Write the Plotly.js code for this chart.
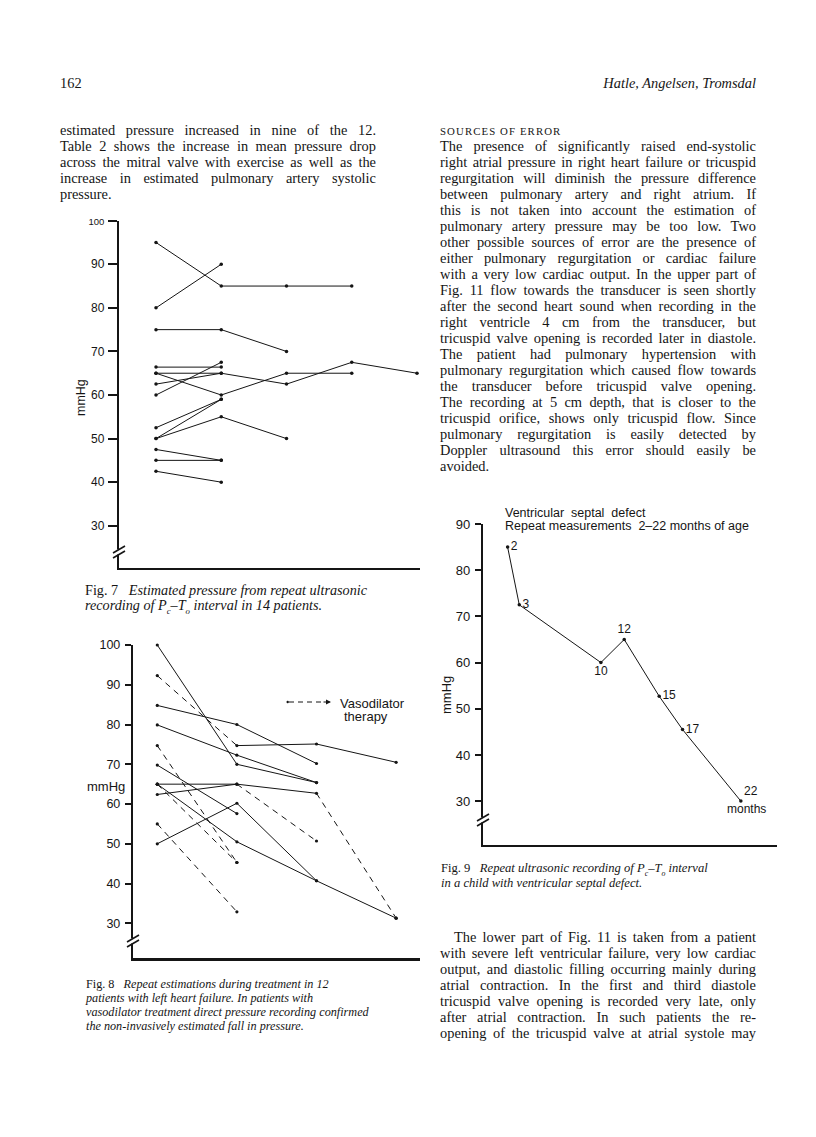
<!DOCTYPE html>
<html><head><meta charset="utf-8">
<script src="https://cdn.plot.ly/plotly-3.0.1.min.js"></script>
<style>
html,body{margin:0;padding:0;background:#fff;}
#page{position:relative;width:816px;height:1137px;overflow:hidden;background:#fff;}
#chart{position:absolute;left:0;top:0;width:816px;height:1137px;}
.ln{position:absolute;white-space:nowrap;font-family:"Liberation Serif","Times New Roman",serif;font-size:14.4px;color:#151515;line-height:16px;}
.cap{position:absolute;white-space:nowrap;font-family:"Liberation Serif","Times New Roman",serif;font-size:12.2px;color:#151515;line-height:13px;}
.cap7{font-size:14.2px;}
.cap9{font-size:12.6px;}
.sc{font-size:10.8px;letter-spacing:1.1px;}
</style></head>
<body><div id="page"><div id="chart"></div></div>
<script>
// ---------------- DATA ----------------
// Fig. 7: estimated pressure (mmHg) at successive recordings, 14 patients
const fig7Visits = [1, 2, 3, 4, 5];
const fig7P01 = [95, 85, 85, 85];
const fig7P02 = [80, 90];
const fig7P03 = [75, 75, 70];
const fig7P04 = [66.4, 66.4];
const fig7P05 = [65, 65];
const fig7P06 = [65, 60, 65, 65];
const fig7P07 = [62.5, 65, 62.5, 67.5, 65];
const fig7P08 = [60, 67.5];
const fig7P09 = [52.5, 59];
const fig7P10 = [50, 59];
const fig7P11 = [50, 55, 50];
const fig7P12 = [47.5, 45];
const fig7P13 = [45, 45];
const fig7P14 = [42.5, 40];
const fig7Patients = [fig7P01, fig7P02, fig7P03, fig7P04, fig7P05, fig7P06, fig7P07,
                      fig7P08, fig7P09, fig7P10, fig7P11, fig7P12, fig7P13, fig7P14];
const fig7TickVals = [30, 40, 50, 60, 70, 80, 90, 100];

// Fig. 8: repeat estimations during treatment, 12 patients
// segment type per interval: 's' = solid, 'v' = vasodilator therapy (dashed)
const fig8Visits = [1, 2, 3, 4];
const fig8P01 = [100, 70, 65.4];          const fig8S01 = ['s', 's'];
const fig8P02 = [92.3, 74.7, 75.1, 70.5]; const fig8S02 = ['v', 's', 's'];
const fig8P03 = [84.8, 80, 70.2];         const fig8S03 = ['s', 's'];
const fig8P04 = [79.9, 72.3, 65.4];       const fig8S04 = ['s', 's'];
const fig8P05 = [74.7, 45.3];             const fig8S05 = ['v'];
const fig8P06 = [69.8, 57.6];             const fig8S06 = ['s'];
const fig8P07 = [65, 65, 62.7, 31.3];     const fig8S07 = ['s', 's', 'v'];
const fig8P08 = [62.4, 65, 50.7];         const fig8S08 = ['s', 'v'];
const fig8P09 = [65, 50.5, 40.7, 31.3];   const fig8S09 = ['s', 's', 's'];
const fig8P10 = [50, 60.2, 40.7];         const fig8S10 = ['s', 's'];
const fig8P11 = [65, 45.3];               const fig8S11 = ['v'];
const fig8P12 = [55, 32.9];               const fig8S12 = ['v'];
const fig8Patients = [fig8P01, fig8P02, fig8P03, fig8P04, fig8P05, fig8P06,
                      fig8P07, fig8P08, fig8P09, fig8P10, fig8P11, fig8P12];
const fig8Segments = [fig8S01, fig8S02, fig8S03, fig8S04, fig8S05, fig8S06,
                      fig8S07, fig8S08, fig8S09, fig8S10, fig8S11, fig8S12];
const fig8TickVals = [30, 40, 50, 60, 70, 80, 90, 100];

// Fig. 9: ventricular septal defect, one child
const fig9Months = [2, 3, 10, 12, 15, 17, 22];
const fig9Pressure = [85, 72.5, 60, 65, 52.7, 45.5, 30];
const fig9Labels = ['2', '3', '10', '12', '15', '17', '22'];
const fig9TickVals = [30, 40, 50, 60, 70, 80, 90];

// ---------------- PAGE TEXT ----------------
const leftColLines = [
  "estimated pressure increased in nine of the 12.",
  "Table 2 shows the increase in mean pressure drop",
  "across the mitral valve with exercise as well as the",
  "increase in estimated pulmonary artery systolic",
  "pressure."
];
const rightColLines = [
  "The presence of significantly raised end-systolic",
  "right atrial pressure in right heart failure or tricuspid",
  "regurgitation will diminish the pressure difference",
  "between pulmonary artery and right atrium. If",
  "this is not taken into account the estimation of",
  "pulmonary artery pressure may be too low. Two",
  "other possible sources of error are the presence of",
  "either pulmonary regurgitation or cardiac failure",
  "with a very low cardiac output. In the upper part of",
  "Fig. 11 flow towards the transducer is seen shortly",
  "after the second heart sound when recording in the",
  "right ventricle 4 cm from the transducer, but",
  "tricuspid valve opening is recorded later in diastole.",
  "The patient had pulmonary hypertension with",
  "pulmonary regurgitation which caused flow towards",
  "the transducer before tricuspid valve opening.",
  "The recording at 5 cm depth, that is closer to the",
  "tricuspid orifice, shows only tricuspid flow. Since",
  "pulmonary regurgitation is easily detected by",
  "Doppler ultrasound this error should easily be",
  "avoided."
];
const bottomRightLines = [
  "The lower part of Fig. 11 is taken from a patient",
  "with severe left ventricular failure, very low cardiac",
  "output, and diastolic filling occurring mainly during",
  "atrial contraction. In the first and third diastole",
  "tricuspid valve opening is recorded very late, only",
  "after atrial contraction. In such patients the re-",
  "opening of the tricuspid valve at atrial systole may"
];

// ---------------- HELPERS ----------------
const W = 816, H = 1137;
const page = document.getElementById('page');
const px = v => v / W;
const py = v => 1 - v / H;
const xd = (a, b) => [a / W, b / W];
const yd = (top, bottom) => [1 - bottom / H, 1 - top / H];

function addLine(html, x, yc, width, justify, cls, lh) {
  const d = document.createElement('div');
  d.className = cls || 'ln';
  d.innerHTML = html;
  d.style.left = x + 'px';
  const h = lh || 16;
  d.style.lineHeight = h + 'px';
  d.style.top = (yc - h / 2) + 'px';
  page.appendChild(d);
  if (justify) {
    const w = d.getBoundingClientRect().width;
    const txt = d.textContent;
    const n = (txt.match(/ /g) || []).length;
    const extra = width - w;
    if (n > 0) {
      if (extra / n >= -1.0) {
        d.style.wordSpacing = (extra / n) + 'px';
      } else {
        d.style.wordSpacing = '-1px';
        d.style.letterSpacing = ((extra + n) / txt.length) + 'px';
      }
    }
  }
  return d;
}

// header
addLine("162", 60, 83, 0, false);
const hdr = addLine("<i>Hatle, Angelsen, Tromsdal</i>", 0, 83, 0, false);
hdr.style.left = (756 - hdr.getBoundingClientRect().width) + 'px';

// left column
leftColLines.forEach((t, i) => addLine(t, 60, 130 + i * 16, 316, i < leftColLines.length - 1));
// right column
addLine('<span class="sc">SOURCES OF ERROR</span>', 440, 130, 0, false);
rightColLines.forEach((t, i) => addLine(t, 440, 146 + i * 16, 316, i < rightColLines.length - 1));
// lower right
bottomRightLines.forEach((t, i) => {
  const ind = i === 0 ? 14 : 0;
  addLine(t, 440 + ind, 937 + i * 16, 316 - ind, true);
});

// captions
const SUB = "style='font-size:0.62em'";
addLine("Fig. 7&nbsp;&nbsp;&nbsp;<i>Estimated pressure from repeat ultrasonic</i>", 85, 590, 0, false, 'cap cap7', 15);
addLine("<i>recording of P<sub " + SUB + ">c</sub>\u2013T<sub " + SUB + ">o</sub> interval in 14 patients.</i>", 85, 605, 0, false, 'cap cap7', 15);
addLine("Fig. 8&nbsp;&nbsp;&nbsp;<i>Repeat estimations during treatment in 12</i>", 86, 984, 0, false, 'cap', 14);
addLine("<i>patients with left heart failure. In patients with</i>", 86, 998, 0, false, 'cap', 14);
addLine("<i>vasodilator treatment direct pressure recording confirmed</i>", 86, 1012, 0, false, 'cap', 14);
addLine("<i>the non-invasively estimated fall in pressure.</i>", 86, 1026, 0, false, 'cap', 14);
addLine("Fig. 9&nbsp;&nbsp;&nbsp;<i>Repeat ultrasonic recording of P<sub " + SUB + ">c</sub>\u2013T<sub " + SUB + ">o</sub> interval</i>", 441, 868, 0, false, 'cap cap9', 14);
addLine("<i>in a child with ventricular septal defect.</i>", 441, 883, 0, false, 'cap cap9', 14);

// ---------------- CHART ----------------
const INK = '#151515';
const SANS = 'Liberation Sans, Arial, sans-serif';
const traces = [];

fig7Patients.forEach(vals => {
  traces.push({
    x: fig7Visits.slice(0, vals.length), y: vals, xaxis: 'x', yaxis: 'y',
    mode: 'lines+markers', line: {color: INK, width: 1}, marker: {color: INK, size: 3.5},
    showlegend: false, hoverinfo: 'skip', cliponaxis: false
  });
});

fig8Patients.forEach((vals, p) => {
  const segs = fig8Segments[p];
  segs.forEach((s, i) => {
    traces.push({
      x: fig8Visits.slice(i, i + 2), y: vals.slice(i, i + 2), xaxis: 'x2', yaxis: 'y2',
      mode: 'lines', line: {color: INK, width: 1, dash: s === 'v' ? '6px,5px' : 'solid'},
      showlegend: false, hoverinfo: 'skip', cliponaxis: false
    });
  });
  traces.push({
    x: fig8Visits.slice(0, vals.length), y: vals, xaxis: 'x2', yaxis: 'y2',
    mode: 'markers', marker: {color: INK, size: 3.2},
    showlegend: false, hoverinfo: 'skip', cliponaxis: false
  });
});

traces.push({
  x: fig9Months, y: fig9Pressure, xaxis: 'x3', yaxis: 'y3',
  mode: 'lines+markers+text', text: fig9Labels,
  textposition: ['middle right', 'middle right', 'bottom center', 'top center', 'middle right', 'middle right', 'top right'],
  textfont: {family: SANS, size: 12, color: INK},
  line: {color: INK, width: 1}, marker: {color: INK, size: 3.5},
  showlegend: false, hoverinfo: 'skip', cliponaxis: false
});

const baseX = {showgrid: false, zeroline: false, showticklabels: false, ticks: '',
  showline: true, linecolor: INK, linewidth: 2.2, fixedrange: true};
const baseY = {showgrid: false, zeroline: false, ticks: 'outside', tickwidth: 2, tickcolor: INK,
  showline: true, linecolor: INK, linewidth: 2.2, fixedrange: true,
  tickfont: {family: SANS, size: 12.5, color: INK}};

const fig7TickText = fig7TickVals.map(v => v === 100 ? '<span style="font-size:9.5px">100</span>' : String(v));

function slash(x0, y0, x1, y1, color, w) {
  return {type: 'line', xref: 'paper', yref: 'paper', x0: px(x0), y0: py(y0), x1: px(x1), y1: py(y1),
          line: {color: color || INK, width: w || 1.6}, layer: 'above'};
}

const layout = {
  width: W, height: H, margin: {l: 0, r: 0, t: 0, b: 0},
  paper_bgcolor: 'rgba(0,0,0,0)', plot_bgcolor: 'rgba(0,0,0,0)',
  xaxis: Object.assign({}, baseX, {domain: xd(119, 420), range: [0.433, 5.046], anchor: 'y'}),
  yaxis: Object.assign({}, baseY, {domain: yd(220.7, 568), range: [20.3, 100], anchor: 'x',
    tickvals: fig7TickVals, ticktext: fig7TickText, ticklen: 9, ticklabelstandoff: 1,
    tickfont: {family: SANS, size: 12, color: INK}}),
  xaxis2: Object.assign({}, baseX, {domain: xd(133, 420), range: [0.695, 4.30], anchor: 'y2'}),
  yaxis2: Object.assign({}, baseY, {domain: yd(645, 958.3), range: [21.2, 100], anchor: 'x2',
    tickvals: fig8TickVals, ticklen: 6, ticklabelstandoff: 2}),
  xaxis3: Object.assign({}, baseX, {domain: xd(483, 777), range: [-0.11, 25.1], anchor: 'y3'}),
  yaxis3: Object.assign({}, baseY, {domain: yd(524, 845), range: [20.5, 90], anchor: 'x3',
    tickvals: fig9TickVals, ticklen: 6, ticklabelstandoff: 2, tickfont: {family: SANS, size: 13, color: INK}}),
  shapes: [
    // axis breaks
    slash(119, 549.5, 119, 554.5, '#ffffff', 4),
    slash(113, 553, 125, 546), slash(113, 558, 125, 551),
    slash(133, 938.5, 133, 943.5, '#ffffff', 4),
    slash(127, 942, 139, 935), slash(127, 947, 139, 940),
    slash(483, 817.5, 483, 822.5, '#ffffff', 4),
    slash(477, 821, 489, 814), slash(477, 826, 489, 819),
    // Fig. 8 key: dashed line
    {type: 'line', xref: 'paper', yref: 'paper', x0: px(289), y0: py(702), x1: px(323), y1: py(702),
     line: {color: INK, width: 1, dash: '5px,4px'}, layer: 'above'},
    {type: 'circle', xref: 'paper', yref: 'paper', x0: px(286.5), y0: py(703.2), x1: px(288.9), y1: py(700.8),
     fillcolor: INK, line: {width: 0}}
  ],
  annotations: [
    {xref: 'paper', yref: 'paper', x: px(81), y: py(398), text: 'mmHg', textangle: -90, showarrow: false,
     font: {family: SANS, size: 12.5, color: INK}, xanchor: 'center', yanchor: 'middle'},
    {xref: 'paper', yref: 'paper', x: px(106), y: py(786), text: 'mmHg', showarrow: false,
     font: {family: SANS, size: 13, color: INK}, xanchor: 'center', yanchor: 'middle'},
    {xref: 'paper', yref: 'paper', x: px(446), y: py(695), text: 'mmHg', textangle: -90, showarrow: false,
     font: {family: SANS, size: 13, color: INK}, xanchor: 'center', yanchor: 'middle'},
    // Fig. 8 key arrowhead + text
    {xref: 'paper', yref: 'paper', x: px(331), y: py(702), ax: -9, ay: 0, text: '', showarrow: true,
     arrowhead: 2, arrowsize: 1, arrowwidth: 1, arrowcolor: INK},
    {xref: 'paper', yref: 'paper', x: px(338), y: py(703.5), text: 'Vasodilator', showarrow: false,
     font: {family: SANS, size: 13, color: INK}, xanchor: 'left', yanchor: 'middle'},
    {xref: 'paper', yref: 'paper', x: px(342), y: py(716.5), text: 'therapy', showarrow: false,
     font: {family: SANS, size: 13, color: INK}, xanchor: 'left', yanchor: 'middle'},
    // Fig. 9 header
    {xref: 'paper', yref: 'paper', x: px(503), y: py(512.5), text: 'Ventricular&nbsp;&nbsp;septal&nbsp;&nbsp;defect', showarrow: false,
     font: {family: SANS, size: 12.5, color: INK}, xanchor: 'left', yanchor: 'middle'},
    {xref: 'paper', yref: 'paper', x: px(503), y: py(526.5), text: 'Repeat measurements&nbsp;&nbsp;2\u201322 months of age', showarrow: false,
     font: {family: SANS, size: 12.5, color: INK}, xanchor: 'left', yanchor: 'middle'},
    {xref: 'x3', yref: 'y3', x: fig9Months[6], y: fig9Pressure[6], text: 'months', showarrow: false,
     xshift: 6, yshift: -8, font: {family: SANS, size: 12, color: INK}, xanchor: 'center', yanchor: 'middle'}
  ]
};

Plotly.newPlot('chart', traces, layout, {staticPlot: true, displayModeBar: false});
</script></body></html>
